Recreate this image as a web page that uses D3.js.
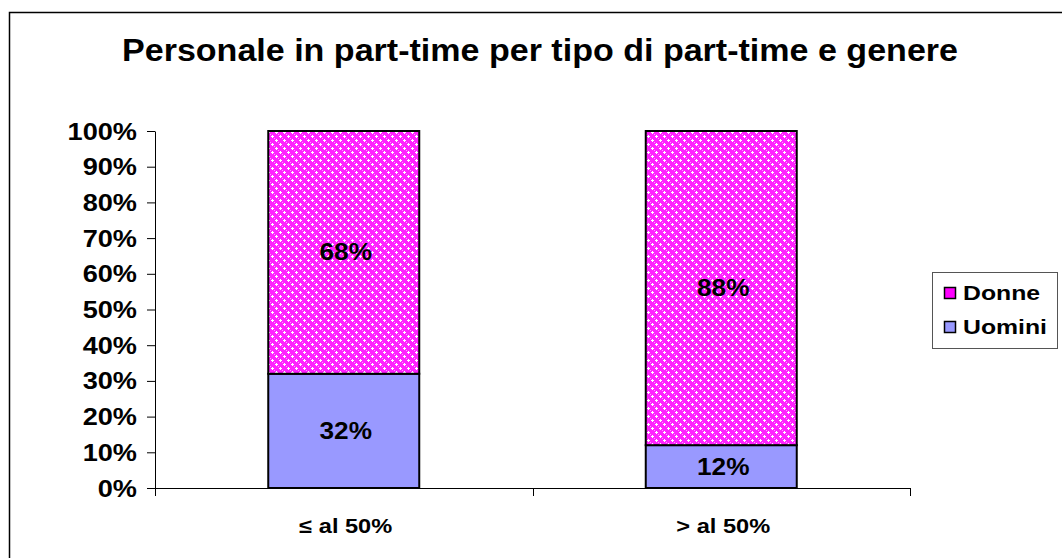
<!DOCTYPE html>
<html>
<head>
<meta charset="utf-8">
<script src="https://cdn.jsdelivr.net/npm/d3@7"></script>
<style>
  body { margin: 0; background: #fff; }
  text { font-family: "Liberation Sans", Arial, sans-serif; font-weight: bold; }
</style>
</head>
<body>
<div id="chart"></div>
<script>
var categories = ["\u2264 al 50%", "> al 50%"];
var uomini = [32, 12];
var donne = [68, 88];
var yTicks = [0, 10, 20, 30, 40, 50, 60, 70, 80, 90, 100];
var seriesNames = ["Donne", "Uomini"];

var svgWidth = 1062;
var svgHeight = 558;

var svg = d3.select("#chart")
  .append("svg")
  .attr("width", svgWidth)
  .attr("height", svgHeight);

// the original text is a little wide, so stretch it horizontally
function stretch(sel, sx) {
  sel.each(function() {
    var t = d3.select(this);
    var x = +t.attr("x") || 0;
    var y = +t.attr("y") || 0;
    t.attr("x", 0).attr("y", 0)
      .attr("transform", `translate(${x}, ${y}) scale(${sx}, 1)`);
  });
}

// hatched fill for Donne
var defs = svg.append("defs");
var pat = defs.append("pattern")
  .attr("id", "pinkPat")
  .attr("patternUnits", "userSpaceOnUse")
  .attr("width", 8)
  .attr("height", 8);
pat.append("rect").attr("width", 8).attr("height", 8).attr("fill", "#ff22ff");
[[0, 0], [4, 4], [8, 0], [0, 8], [8, 8]].forEach(function(c) {
  pat.append("rect").attr("x", c[0] - 1).attr("y", c[1]).attr("width", 3).attr("height", 1).attr("fill", "#ffffff");
  pat.append("rect").attr("x", c[0]).attr("y", c[1] - 1).attr("width", 1).attr("height", 3).attr("fill", "#ffffff");
});
pat.append("rect").attr("x", 2).attr("y", 2).attr("width", 1).attr("height", 1).attr("fill", "#ff99ff");
pat.append("rect").attr("x", 6).attr("y", 6).attr("width", 1).attr("height", 1).attr("fill", "#ff99ff");

// outer frame
svg.append("rect")
  .attr("x", 9.5).attr("y", 12.5)
  .attr("width", 1100).attr("height", 600)
  .attr("fill", "none")
  .attr("stroke", "#000")
  .attr("stroke-width", 1.5);

svg.append("text")
  .attr("x", 540)
  .attr("y", 61)
  .attr("text-anchor", "middle")
  .attr("textLength", 836)
  .attr("lengthAdjust", "spacingAndGlyphs")
  .style("font-size", "31px")
  .text("Personale in part-time per tipo di part-time e genere");

var plot = { left: 155, right: 910, top: 131, bottom: 488 };

var xScale = d3.scaleBand()
  .domain(categories)
  .range([plot.left, plot.right])
  .paddingInner(0.6)
  .paddingOuter(0.3);

var yScale = d3.scaleLinear()
  .domain([0, 100])
  .range([plot.bottom, plot.top]);

// y axis
var leftAxis = d3.axisLeft(yScale)
  .tickValues(yTicks)
  .tickSize(8)
  .tickSizeOuter(0)
  .tickFormat(d => d + "%");

var yAxisG = svg.append("g")
  .attr("transform", `translate(${plot.left}, 0)`)
  .call(leftAxis);
yAxisG.selectAll("text")
  .attr("x", -18)
  .attr("dy", null)
  .attr("y", 8)
  .style("font-size", "23px")
  .style("font-family", "'Liberation Sans', Arial, sans-serif")
  .attr("fill", "#000")
  .call(stretch, 1.18);
yAxisG.selectAll("line, path").attr("stroke", "#000");

// x axis: ticks at category boundaries
var xEdges = d3.scaleLinear().domain([0, categories.length]).range([plot.left, plot.right]);
var xAxisG = svg.append("g");
xAxisG.append("line")
  .attr("x1", plot.left).attr("x2", plot.right)
  .attr("y1", plot.bottom + 0.5).attr("y2", plot.bottom + 0.5)
  .attr("stroke", "#000");
d3.range(categories.length + 1).forEach(function(i) {
  xAxisG.append("line")
    .attr("x1", Math.round(xEdges(i)) + 0.5).attr("x2", Math.round(xEdges(i)) + 0.5)
    .attr("y1", plot.bottom).attr("y2", plot.bottom + 8)
    .attr("stroke", "#000");
});
xAxisG.selectAll("text.cat")
  .data(categories)
  .enter()
  .append("text")
  .attr("class", "cat")
  .attr("x", (d, i) => (xEdges(i) + xEdges(i + 1)) / 2 + 2)
  .attr("y", 533)
  .attr("text-anchor", "middle")
  .style("font-size", "20px")
  .text(d => d)
  .call(stretch, 1.18);

// bars
var stacks = categories.map(function(c, i) {
  return { cat: c, u: uomini[i], d: donne[i] };
});

var bars = svg.append("g");
bars.selectAll("rect.u")
  .data(stacks)
  .enter()
  .append("rect")
  .attr("x", d => xScale(d.cat))
  .attr("y", d => yScale(d.u))
  .attr("width", xScale.bandwidth())
  .attr("height", d => yScale(0) - yScale(d.u))
  .attr("fill", "#9999ff")
  .attr("stroke", "#000")
  .attr("stroke-width", 2);

bars.selectAll("rect.d")
  .data(stacks)
  .enter()
  .append("rect")
  .attr("x", d => xScale(d.cat))
  .attr("y", d => yScale(d.u + d.d))
  .attr("width", xScale.bandwidth())
  .attr("height", d => yScale(d.u) - yScale(d.u + d.d))
  .attr("fill", "url(#pinkPat)")
  .attr("stroke", "#000")
  .attr("stroke-width", 2);

// value labels
bars.selectAll("text.lu")
  .data(stacks)
  .enter()
  .append("text")
  .attr("x", d => xScale(d.cat) + xScale.bandwidth() / 2 + 2)
  .attr("y", d => yScale(d.u / 2) + 8)
  .attr("text-anchor", "middle")
  .style("font-size", "23px")
  .text(d => d.u + "%")
  .call(stretch, 1.14);

bars.selectAll("text.ld")
  .data(stacks)
  .enter()
  .append("text")
  .attr("x", d => xScale(d.cat) + xScale.bandwidth() / 2 + 2)
  .attr("y", d => yScale(d.u + d.d / 2) + 8)
  .attr("text-anchor", "middle")
  .style("font-size", "23px")
  .text(d => d.d + "%")
  .call(stretch, 1.14);

// legend
var legend = svg.append("g").attr("transform", "translate(932, 272)");
legend.append("rect")
  .attr("x", 0.5).attr("y", 0.5)
  .attr("width", 125).attr("height", 76)
  .attr("fill", "#fff")
  .attr("stroke", "#555")
  .attr("stroke-width", 1);
var legendFill = { "Donne": "#ff00ff", "Uomini": "#9999ff" };
seriesNames.forEach(function(name, i) {
  legend.append("rect")
    .attr("x", 12.5).attr("y", 15.5 + i * 34)
    .attr("width", 11).attr("height", 11)
    .attr("fill", legendFill[name])
    .attr("stroke", "#000")
    .attr("stroke-width", 1.5);
  legend.append("text")
    .attr("x", 31)
    .attr("y", 27.5 + i * 34)
    .style("font-size", "21px")
    .text(name)
    .call(stretch, 1.18);
});
</script>
</body>
</html>
